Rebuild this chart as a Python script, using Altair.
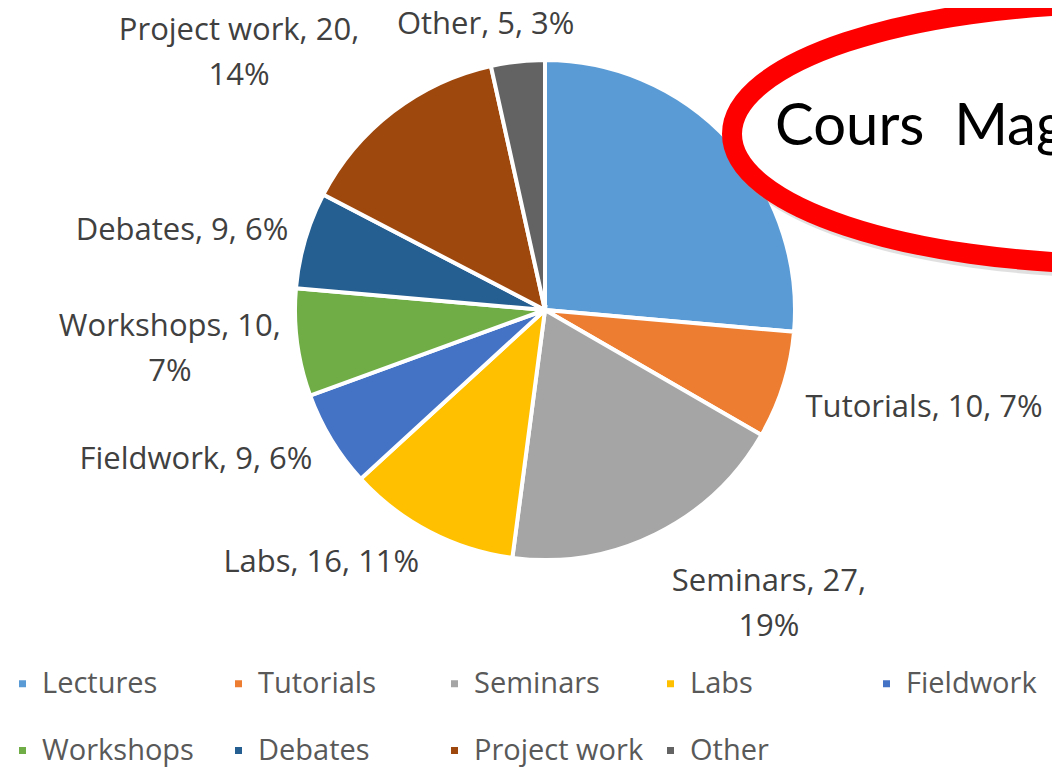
import math
import altair as alt
import pandas as pd

# ---------------- data ----------------
CATEGORIES = ["Lectures", "Tutorials", "Seminars", "Labs", "Fieldwork",
              "Workshops", "Debates", "Project work", "Other"]
VALUES = [38, 10, 27, 16, 9, 10, 9, 20, 5]
COLORS = ["#5B9BD5", "#ED7D31", "#A5A5A5", "#FFC000", "#4472C4",
          "#70AD47", "#255E91", "#9E480E", "#636363"]
WRAPPED = ["Seminars", "Workshops", "Project work"]
HIDDEN_LABELS = ["Lectures"]          # covered by the callout in the reference
CALLOUT_TEXT = "Cours\u00a0 Magistraux"

# ---------------- layout (label placement like Excel's best fit) ----------------
LABEL_SHIFT_DEG = {"Tutorials": -3, "Seminars": -11, "Labs": 14,
                   "Fieldwork": 8, "Workshops": 1.5, "Debates": -4,
                   "Project work": -12.5, "Other": -5.5}
W, H = 1044, 759
CX, CY, R = 537, 302, 250
FS, LH, GAP, PADX = 31, 45, 12, 10
FONT = "Open Sans"

total = sum(VALUES)
pie_rows, label_rows = [], []
cum = 0
for i, (c, v) in enumerate(zip(CATEGORIES, VALUES)):
    pct = round(100 * v / total)
    if c in WRAPPED:
        text = f"{c}, {v},\n{pct}%"
    else:
        text = f"{c}, {v}, {pct}%"
    mid = (cum + v / 2) / total * 360 + LABEL_SHIFT_DEG.get(c, 0)
    cum += v
    pie_rows.append({"category": c, "value": v, "idx": i})
    if c in HIDDEN_LABELS:
        continue
    lines = text.split("\n")
    n = len(lines)
    w = max(len(l) for l in lines) * 0.46 * FS
    h = 0.65 * FS if n == 1 else n * LH + 25
    a = math.radians(mid)
    s, co = math.sin(a), math.cos(a)
    r = R + GAP + abs(s) * (w / 2 + PADX) + abs(co) * h / 2
    label_rows.append({"category": c, "label": text,
                       "lx": CX + r * s,
                       "ly": CY - r * co - (n - 1) * LH / 2})

pie_df = pd.DataFrame(pie_rows)
label_df = pd.DataFrame(label_rows)

arcs = alt.Chart(pie_df).mark_arc(
    outerRadius=R, stroke="white", strokeWidth=4
).encode(
    theta=alt.Theta("value:Q", stack=True),
    color=alt.Color(
        "category:N",
        scale=alt.Scale(domain=CATEGORIES, range=COLORS),
        legend=alt.Legend(
            title=None, orient="none", legendX=0, legendY=661,
            direction="horizontal", columns=5, gridAlign="all",
            columnPadding=12, rowPadding=37, padding=0,
            symbolType="square", symbolSize=49, symbolStrokeWidth=0,
            labelFontSize=29, labelColor="#595959", labelFont=FONT,
            labelOffset=5, labelLimit=400,
        ),
    ),
    order=alt.Order("idx:Q", sort="ascending"),
    x=alt.value(CX),
    y=alt.value(CY),
)

labels = alt.Chart(label_df).mark_text(
    align="center", baseline="middle", fontSize=FS, font=FONT,
    color="#404040", lineBreak="\n", lineHeight=LH,
).encode(
    x=alt.X("lx:Q", scale=None, axis=None),
    y=alt.Y("ly:Q", scale=None, axis=None),
    text="label:N",
)

ELLIPSE_PATH = "M-1,0A1,0.3333,0,1,1,1,0A1,0.3333,0,1,1,-1,0Z"
ELLIPSE_SIZE = (2 * 390) ** 2
one = pd.DataFrame({"k": [0]})
shadow = alt.Chart(one).mark_point(
    shape=ELLIPSE_PATH, size=ELLIPSE_SIZE, filled=False, stroke="#9a9a9a",
    strokeWidth=20, opacity=0.3,
).encode(x=alt.value(1117), y=alt.value(130))

ellipse = alt.Chart(one).mark_point(
    shape=ELLIPSE_PATH, size=ELLIPSE_SIZE, filled=True, fill="white",
    stroke="#FF0000", strokeWidth=20, opacity=1,
).encode(x=alt.value(1114), y=alt.value(126))

callout = alt.Chart(pd.DataFrame({"t": [CALLOUT_TEXT]})).mark_text(
    align="left", baseline="alphabetic", fontSize=58, font="Lato", color="black",
).encode(x=alt.value(767), y=alt.value(137), text="t:N")

chart = alt.layer(arcs, labels, shadow, ellipse, callout).properties(
    width=W, height=H, padding=0,
    autosize=alt.AutoSizeParams(type="none"),
).configure_view(stroke=None)

chart.save("out.html", embed_options={"renderer": "svg", "actions": False})
